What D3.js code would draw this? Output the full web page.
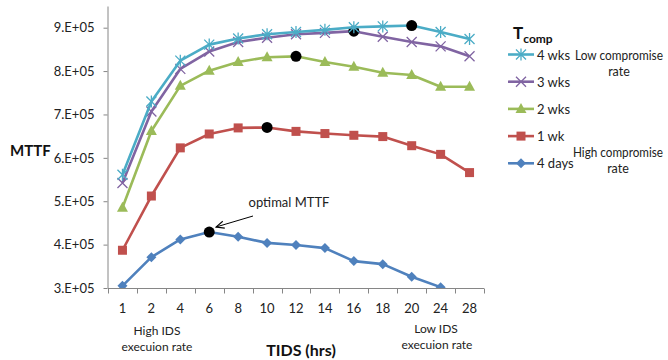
<!DOCTYPE html>
<html><head><meta charset="utf-8">
<script src="https://cdn.jsdelivr.net/npm/d3@7"></script>
<style>body{margin:0;background:#fff}svg{display:block}text{font-family:Lato,"Open Sans",sans-serif}</style>
</head><body><svg id="c" width="668" height="360"></svg>
<script>
const categories = ["1","2","4","6","8","10","12","14","16","18","20","24","28"];
const yTicks = [300000,400000,500000,600000,700000,800000,900000];
const seriesNames = ["4 wks","3 wks","2 wks","1 wk","4 days"];
const wks4  = [561000,730000,824000,861000,875000,885000,890000,895000,901000,903000,905000,890000,874000];
const wks3  = [542000,707000,805000,845000,867000,877000,885000,888000,892000,879000,867000,857000,834000];
const wks2  = [485000,662000,766000,801000,821000,832000,834000,821000,810000,796000,791000,764000,764000];
const wk1   = [387000,512000,623000,655000,669000,670000,661000,656000,652000,649000,628000,608000,566000];
const days4 = [305000,371000,412000,429000,418000,404000,399000,392000,362000,355000,326000,302000,272000];
const optimalIndex = [10,8,6,5,3];
const colors = ["#4BACC6","#8064A2","#9BBB59","#C0504D","#4F81BD"];
const markers = ["star","x","tri","sq","dia"];
const data = [wks4,wks3,wks2,wk1,days4];

const svg = d3.select("#c");
const pL=108, pR=484, pT=6, pB=288;
const x = d3.scaleBand().domain(categories).range([pL,pR]);
const y = d3.scaleLinear().domain([300000,950000]).range([pB,pT]);
const axisColor="#868686";

// axes
const yAxis = svg.append("g").attr("transform",`translate(${pL-0.5},0)`)
  .call(d3.axisLeft(y).tickValues(yTicks).tickSize(4).tickSizeOuter(0).tickFormat(d=>(d/1e5)+".E+05"));
yAxis.select(".domain").attr("stroke",axisColor);
yAxis.selectAll(".tick line").attr("stroke",axisColor);
yAxis.selectAll("text").attr("font-size",13).attr("fill","#222").attr("x",-13).attr("font-family","Lato");

const xg = svg.append("g").attr("transform",`translate(0,${pB+0.5})`);
xg.append("line").attr("x1",pL).attr("x2",pR).attr("stroke",axisColor);
const bounds = categories.map(c=>x(c)).concat([pR]);
xg.selectAll("line.t").data(bounds).enter().append("line").attr("class","t")
  .attr("x1",d=>Math.round(d)+0.5).attr("x2",d=>Math.round(d)+0.5).attr("y1",0).attr("y2",5).attr("stroke",axisColor);
xg.selectAll("text").data(categories).enter().append("text")
  .attr("x",d=>x(d)+x.bandwidth()/2).attr("y",24).attr("text-anchor","middle")
  .attr("font-size",13).attr("fill","#222").text(d=>d);

// clip
svg.append("clipPath").attr("id","clip").append("rect").attr("x",pL).attr("y",0).attr("width",pR-pL+10).attr("height",pB);
const plot = svg.append("g").attr("clip-path","url(#clip)");
const cx = i=>x(categories[i])+x.bandwidth()/2;
const line = d3.line().x((d,i)=>cx(i)).y(d=>y(d));

function marker(g, type, color, px, py){
  if(type==="star"){
    const s=5;
    g.append("path").attr("d",`M${px-s},${py-s}L${px+s},${py+s}M${px-s},${py+s}L${px+s},${py-s}M${px},${py-s-1}L${px},${py+s+1}`)
      .attr("stroke",color).attr("stroke-width",1.3).attr("fill","none");
  } else if(type==="x"){
    const s=5;
    g.append("path").attr("d",`M${px-s},${py-s}L${px+s},${py+s}M${px-s},${py+s}L${px+s},${py-s}`)
      .attr("stroke",color).attr("stroke-width",1.3).attr("fill","none");
  } else if(type==="tri"){
    g.append("path").attr("d",`M${px},${py-6}L${px+5.5},${py+4}L${px-5.5},${py+4}Z`).attr("fill",color);
  } else if(type==="sq"){
    g.append("rect").attr("x",px-4.5).attr("y",py-4.5).attr("width",9).attr("height",9).attr("fill",color);
  } else if(type==="dia"){
    g.append("path").attr("d",`M${px},${py-5}L${px+5},${py}L${px},${py+5}L${px-5},${py}Z`).attr("fill",color);
  }
}

// draw series back to front (4 days first)
for(let k=data.length-1;k>=0;k--){
  plot.append("path").datum(data[k]).attr("d",line).attr("fill","none")
    .attr("stroke",colors[k]).attr("stroke-width",2.6).attr("stroke-linejoin","round");
  data[k].forEach((v,i)=>{ if(i!==optimalIndex[k]) marker(plot,markers[k],colors[k],cx(i),y(v)); });
  const oi=optimalIndex[k];
  plot.append("circle").attr("cx",cx(oi)).attr("cy",y(data[k][oi])).attr("r",5.5).attr("fill","#000");
}

// annotation
svg.append("defs").append("marker").attr("id","ah").attr("viewBox","0 0 10 10").attr("refX",9).attr("refY",5)
  .attr("markerWidth",9).attr("markerHeight",9).attr("markerUnits","userSpaceOnUse").attr("orient","auto")
  .append("path").attr("d","M0,1L9,5L0,9").attr("fill","none").attr("stroke","#000").attr("stroke-width",1.2);
svg.append("line").attr("x1",253).attr("y1",216).attr("x2",216).attr("y2",227)
  .attr("stroke","#000").attr("stroke-width",1).attr("marker-end","url(#ah)");
svg.append("text").attr("x",289).attr("y",207).attr("text-anchor","middle").attr("font-size",13).attr("fill","#222").text("optimal MTTF");

// axis titles
svg.append("text").attr("x",10).attr("y",156).attr("font-size",15).attr("font-weight","bold").attr("fill","#111").text("MTTF");
svg.append("text").attr("x",301).attr("y",356).attr("text-anchor","middle").attr("font-size",16).attr("font-weight","bold").attr("fill","#111").text("TIDS (hrs)");
const notes=[[157,335,"High IDS"],[157,351,"execuion rate"],[436,333,"Low IDS"],[437,349,"execuion rate"]];
notes.forEach(n=>svg.append("text").attr("x",n[0]).attr("y",n[1]).attr("text-anchor","middle").attr("font-size",12).attr("fill","#222").text(n[2]));

// legend
const lt = svg.append("text").attr("x",513).attr("y",39).attr("font-weight","bold").attr("fill","#111");
lt.append("tspan").attr("font-size",17).text("T");
lt.append("tspan").attr("font-size",12).attr("dy",4).text("comp");
seriesNames.forEach((n,k)=>{
  const ly = 54.5 + k*27.2;
  const g = svg.append("g");
  g.append("line").attr("x1",508).attr("x2",534).attr("y1",ly).attr("y2",ly).attr("stroke",colors[k]).attr("stroke-width",2.6);
  marker(g,markers[k],colors[k],521,ly);
  g.append("text").attr("x",537).attr("y",ly+5).attr("font-size",13).attr("fill","#222").text(n);
});
const side=[[619,60,"Low compromise",88],[619,76,"rate",0],[618,157,"High compromise",90],[618,173,"rate",0]];
side.forEach(n=>{
  const t=svg.append("text").attr("x",n[0]).attr("y",n[1]).attr("text-anchor","middle").attr("font-size",12.5).attr("fill","#222").text(n[2]);
  if(n[3]) t.attr("textLength",n[3]).attr("lengthAdjust","spacingAndGlyphs");
});
</script></body></html>
